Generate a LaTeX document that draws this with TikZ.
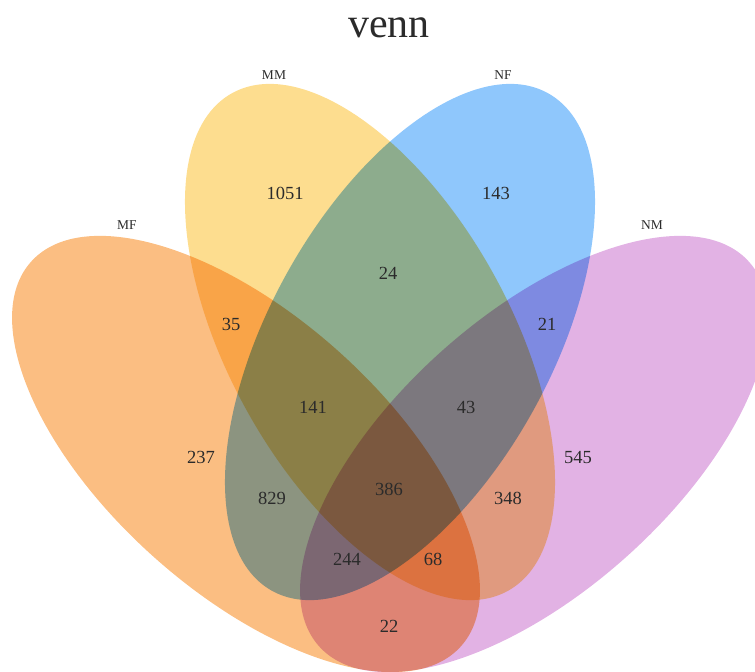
\documentclass[tikz,border=0pt]{standalone}
\usepackage{fontspec}
\setmainfont{Liberation Serif}
\definecolor{cMF}{HTML}{FBBE82}
\definecolor{cMM}{HTML}{FDDD8F}
\definecolor{cNF}{HTML}{8FC7FC}
\definecolor{cNM}{HTML}{E2B2E4}
\definecolor{ink}{HTML}{2B2B2B}
\tikzset{
  setshape/.style={draw=none},
  count/.style={text=ink, font=\fontsize{18.5}{20}\selectfont, inner sep=0pt},
  setname/.style={text=ink, font=\fontsize{13.5}{15}\selectfont, inner sep=0pt},
  heading/.style={text=ink, font=\fontsize{42}{46}\selectfont, inner sep=0pt}
}
\begin{document}
\begin{tikzpicture}[x=1pt,y=-1pt]
\useasboundingbox (0,0) rectangle (755,672);
\clip (0,0) rectangle (755,672);

% centres of the four ellipses
\coordinate (oMF) at (246,454);
\coordinate (oMM) at (370,342);
\coordinate (oNF) at (410,342);
\coordinate (oNM) at (534,454);

% overlapping sets, colours multiplied where they overlap
\begin{scope}[blend group=multiply]
  \fill[cMF, setshape, rotate around={-41.8:(oMF)}] (oMF) ellipse [x radius=288.4pt, y radius=138.2pt];
  \fill[cMM, setshape, rotate around={-61.0:(oMM)}] (oMM) ellipse [x radius=284.5pt, y radius=141.0pt];
  \fill[cNF, setshape, rotate around={-119.0:(oNF)}] (oNF) ellipse [x radius=284.5pt, y radius=141.0pt];
  \fill[cNM, setshape, rotate around={-138.2:(oNM)}] (oNM) ellipse [x radius=288.4pt, y radius=138.2pt];
\end{scope}

% title and set names
\node[heading, anchor=base] (title) at (389,37) {venn};
\node[setname] (lMM) at (274,75) {MM};
\node[setname] (lNF) at (503,75) {NF};
\node[setname] (lMF) at (127,225) {MF};
\node[setname] (lNM) at (652,225) {NM};

% region counts
\node[count] (r1051) at (285,193) {1051};
\node[count] (r143)  at (496,193) {143};
\node[count] (r24)   at (388,273) {24};
\node[count] (r35)   at (231,324) {35};
\node[count] (r21)   at (547,324) {21};
\node[count] (r141)  at (313,407) {141};
\node[count] (r43)   at (466,407) {43};
\node[count] (r237)  at (201,457) {237};
\node[count] (r545)  at (578,457) {545};
\node[count] (r386)  at (389,489) {386};
\node[count] (r829)  at (272,498) {829};
\node[count] (r348)  at (508,498) {348};
\node[count] (r244)  at (347,559) {244};
\node[count] (r68)   at (433,559) {68};
\node[count] (r22)   at (389,626) {22};
\end{tikzpicture}
\end{document}
